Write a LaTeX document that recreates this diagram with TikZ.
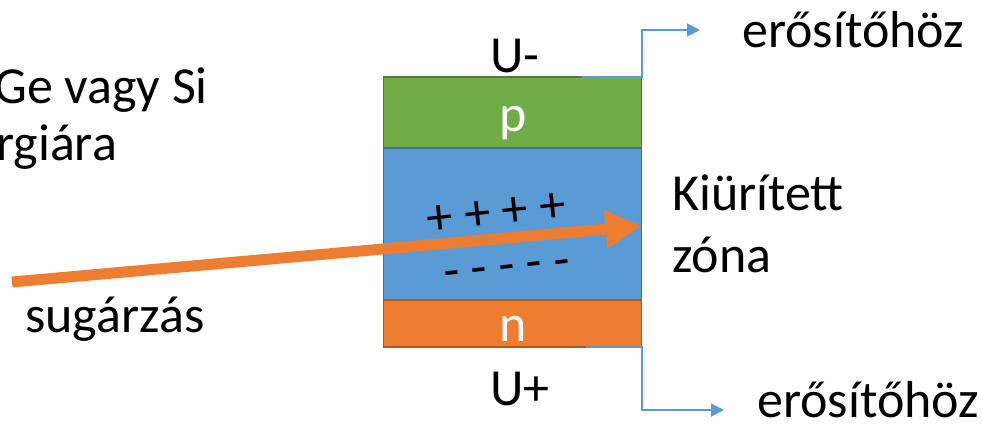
\documentclass[tikz,border=0pt]{standalone}
\usepackage{fontspec}
\setmainfont{Carlito}
\usetikzlibrary{arrows.meta,calc}
\definecolor{pgreen}{HTML}{70AD47}
\definecolor{pgreenD}{HTML}{507E32}
\definecolor{zblue}{HTML}{5B9BD5}
\definecolor{zblueD}{HTML}{41719C}
\definecolor{norange}{HTML}{ED7D31}
\definecolor{norangeD}{HTML}{AE5A21}
\tikzset{
  layer/.style={draw, line width=1.5pt, minimum width=258pt, inner sep=0pt, outer sep=0pt},
  txt/.style={font=\fontsize{52}{62}\selectfont, inner sep=0pt, anchor=base west},
  ctxt/.style={font=\fontsize{52}{62}\selectfont, inner sep=0pt, anchor=base},
  conn/.style={draw=zblue, line width=2pt, -{Triangle[length=13pt,width=13pt]}},
  ray/.style={draw=norange, line width=11pt, -{Triangle[length=36pt,width=36pt]}},
}
\begin{document}
\begin{tikzpicture}[x=1pt,y=-1pt]
\useasboundingbox (0,0) rectangle (982,423);
% layers
\node[layer, fill=pgreen, draw=pgreenD, minimum height=71pt] (p) at (512.5,112.5) {};
\node[layer, fill=zblue, draw=zblueD, minimum height=152pt] (z) at (512.5,224) {};
\node[layer, fill=norange, draw=norangeD, minimum height=47pt] (n) at (512.5,323.5) {};
% layer labels
\node[ctxt, text=white] (pl) at (513,131) {p};
\node[ctxt, text=white] (nl) at (513,341) {n};
\node[txt] (um) at (490,72) {U-};
\node[txt] (up) at (490,405) {U+};
% radiation arrow
\coordinate (src) at (12,282);
\coordinate (tip) at (z.east |- 0,226);
\draw[ray] (src) -- (tip);
% charges
\node[ctxt, rotate=6] (plus) at (498,228) {+ + + +};
\node[ctxt, rotate=6] (minus) at (508,282) {- - - - -};
% connectors
\coordinate (o1) at (700,30);
\coordinate (o2) at (724,410);
\draw[conn] ([xshift=-60pt]p.north east) -- (p.north east) -- (p.north east |- o1) -- (o1);
\draw[conn] ([xshift=-56pt]n.south east) -- (n.south east) -- (n.south east |- o2) -- (o2);
% texts
\node[txt] (e1) at (742,47) {erősítőhöz};
\node[txt] (e2) at (757,417) {erősítőhöz};
\node[txt] (k1) at (672,210) {Kiürített};
\node[txt] (k2) at (672,272) {zóna};
\node[txt] (g1) at (-6,103) {Ge vagy Si};
\node[txt] (g2) at (-4,160) {rgiára};
\node[txt] (s) at (25,332) {sugárzás};
\end{tikzpicture}
\end{document}
